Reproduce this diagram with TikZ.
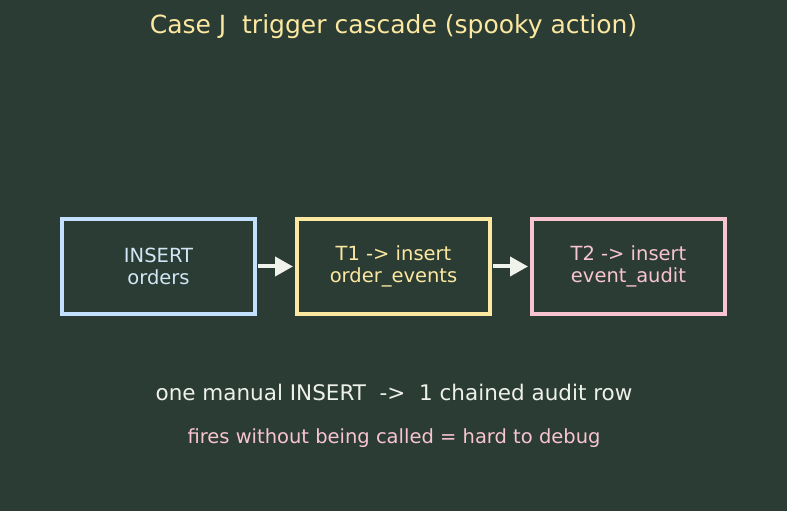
\documentclass[tikz,border=0pt]{standalone}
\usepackage{fontspec}
\setmainfont{DejaVu Sans}
\usepackage{xcolor}
\usetikzlibrary{arrows.meta,positioning}

\definecolor{bgdark}{HTML}{2B3C34}
\definecolor{titleyellow}{HTML}{FCE8A0}
\definecolor{insertblue}{HTML}{C4E0FF}
\definecolor{inserttext}{HTML}{D2E6F6}
\definecolor{trigyellow}{HTML}{FCE8A0}
\definecolor{auditpink}{HTML}{F8C4D2}
\definecolor{notewhite}{HTML}{EEF1EA}
\definecolor{arrowwhite}{HTML}{F0F2EC}

\tikzset{
	box/.style={draw, line width=4pt, outer sep=0pt, align=center,
		minimum width=193pt, minimum height=95pt, font=\fontsize{19.5}{22}\selectfont},
	arrow/.style={-{Triangle[length=18pt,width=19pt]}, line width=4pt,
		arrowwhite, shorten <=3pt, shorten >=4pt},
	tinylabel/.style={font=\fontsize{19.5}{22}\selectfont}
}

\begin{document}
\begin{tikzpicture}[x=1pt, y=1pt, node distance=42pt]
	
	%% ── background ───────────────────────────────────────────────────
	\fill[bgdark] (0,0) rectangle (787,511);
	\useasboundingbox (0,0) rectangle (787,511);
	
	%% ── title ────────────────────────────────────────────────────────
	\node[font=\fontsize{25}{28}\selectfont, text=titleyellow] (title)
	at (393.5,484) {Case J\ \ trigger cascade (spooky action)};
	
	%% ── trigger chain ────────────────────────────────────────────────
	\node[box, draw=insertblue, text=inserttext] (ins) at (158.5,244.5)
	{INSERT\\orders};
	
	\node[box, draw=trigyellow, text=trigyellow, right=of ins] (tone)
	{T1 -> insert\\order\_events};
	
	\node[box, draw=auditpink, text=auditpink, right=of tone] (ttwo)
	{T2 -> insert\\event\_audit};
	
	\draw[arrow] (ins.east) -- (tone.west);
	\draw[arrow] (tone.east) -- (ttwo.west);
	
	%% ── notes below ──────────────────────────────────────────────────
	\node[font=\fontsize{21.5}{24}\selectfont, text=notewhite] (count)
	at (394,119) {one manual INSERT\ \ ->\ \ 1 chained audit row};
	
	\node[tinylabel, text=auditpink] (warn) at (394,73)
	{fires without being called = hard to debug};
	
\end{tikzpicture}
\end{document}
